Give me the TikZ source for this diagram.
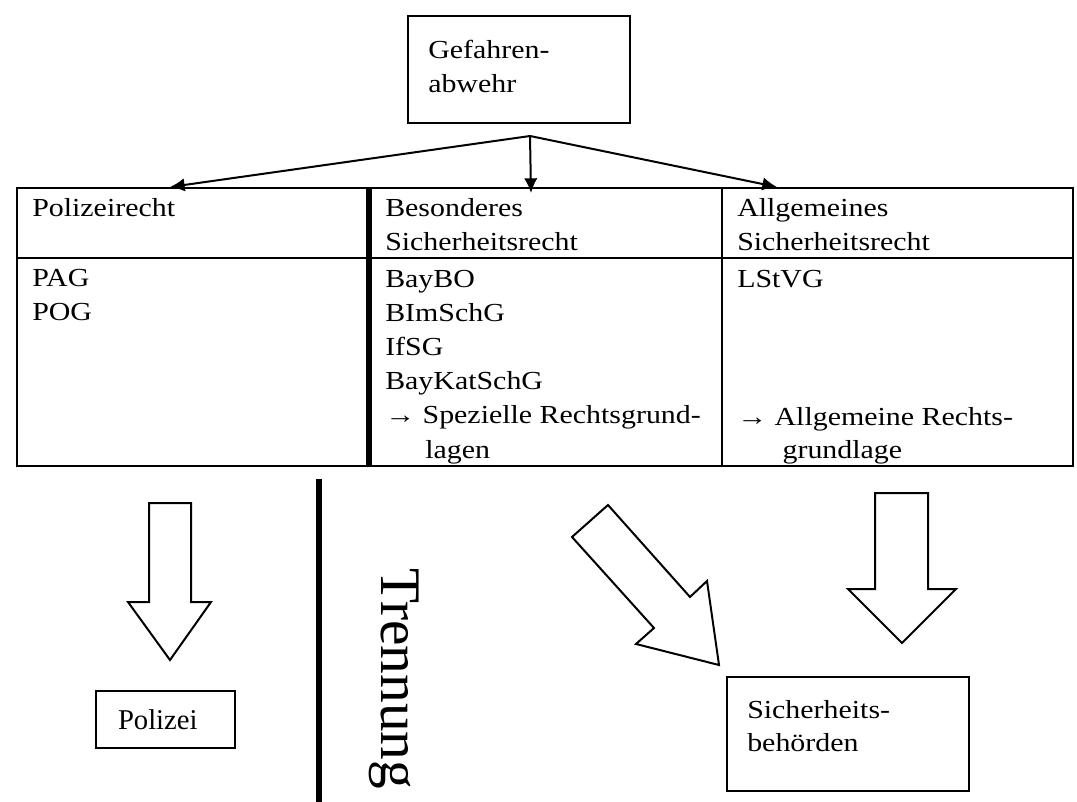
\documentclass[tikz,border=0pt]{standalone}
\usepackage{fontspec}
\setmainfont{Liberation Serif}[FakeStretch=1.15]
\newfontfamily\timesfont{Liberation Serif}
\usepackage{tikz}
\usetikzlibrary{positioning}
\usetikzlibrary{arrows.meta}

\tikzset{
  cell/.style={anchor=base west, inner sep=0pt, align=left},
  boxtext/.style={inner sep=0pt, align=left},
  boxed/.style={draw, line width=1.5pt, inner sep=0pt},
  hollow/.style={draw, line width=1.5pt, line join=miter, fill=white},
  fork/.style={->, line width=1.5pt}
}

\begin{document}
\begin{tikzpicture}[x=0.75pt, y=-0.75pt, >={Latex[length=11pt,width=10pt]},
  font=\fontsize{19.5}{24.75}\selectfont]
  \useasboundingbox (0,0) rectangle (1077,802);

  % top box and the three branches
  \node[boxed, minimum width=166.5pt, minimum height=80.25pt] (gefbox) at (519,69.5) {};
  \node[boxtext, below right=18.5pt and 15.75pt of gefbox.north west, font=\fontsize{19.5}{26}\selectfont] (gefahr) {Gefahren-\\abwehr};
  \coordinate (split) at (530,136);
  \coordinate (tipL) at (170,187);
  \coordinate (tipM) at (531,193);
  \coordinate (tipR) at (777,187);
  \draw[fork] (split) -- (tipL);
  \draw[fork] (split) -- (tipM);
  \draw[fork] (split) -- (tipR);

  % table
  \draw[line width=1.5pt] (17,188) rectangle (1073,466);
  \draw[line width=1.5pt] (17,258) -- (1073,258);
  \draw[line width=1.5pt] (722,188) -- (722,466);
  \draw[line width=4.5pt] (369,188) -- (369,466);

  % cell texts (base = last line)
  \node[cell] (polr) at (32,217) {Polizeirecht};
  \node[cell] (besr) at (385,250) {Besonderes\\Sicherheitsrecht};
  \node[cell] (allgr) at (737,250) {Allgemeines\\Sicherheitsrecht};
  \node[cell] (polg) at (32,320) {PAG\\POG};
  \node[cell, font=\fontsize{19.5}{25.6}\selectfont] (besg) at (385,458) {BayBO\\BImSchG\\IfSG\\BayKatSchG\\→ Spezielle Rechtsgrund-\\\hspace*{30pt}lagen};
  \node[cell] (allgg) at (737,287) {LStVG};
  \node[cell] (allgl) at (737,458) {→ Allgemeine Rechts-\\\hspace*{34pt}grundlage};

  % separation
  \draw[line width=4.5pt] (319,479) -- (319,802);
  \node[anchor=base west, inner sep=0pt, rotate=-90, font=\timesfont\fontsize{43}{50}\selectfont] (trenn) at (381,568) {Trennung};

  % hollow arrows
  \draw[hollow] (149,503) -- (191,503) -- (191,602) -- (211,602) -- (170,660) -- (128,602) -- (149,602) -- cycle;
  \draw[hollow] (572,537) -- (608,505) -- (690,597) -- (707,581) -- (719,665) -- (636,644) -- (654,628) -- cycle;
  \draw[hollow] (875,493) -- (928,493) -- (928,589) -- (956,589) -- (902,643) -- (848,589) -- (875,589) -- cycle;

  % authorities
  \node[boxed, minimum width=104.25pt, minimum height=42.75pt, font=\timesfont\fontsize{21.5}{26}\selectfont, text width=71.25pt, inner xsep=16.5pt, align=left] (pol) at (165.5,719.5) {Polizei};
  \node[boxed, minimum width=181.5pt, minimum height=85.5pt] (sichbox) at (848,734) {};
  \node[boxtext, below right=18pt and 15.75pt of sichbox.north west] (sich) {Sicherheits-\\behörden};
\end{tikzpicture}
\end{document}
